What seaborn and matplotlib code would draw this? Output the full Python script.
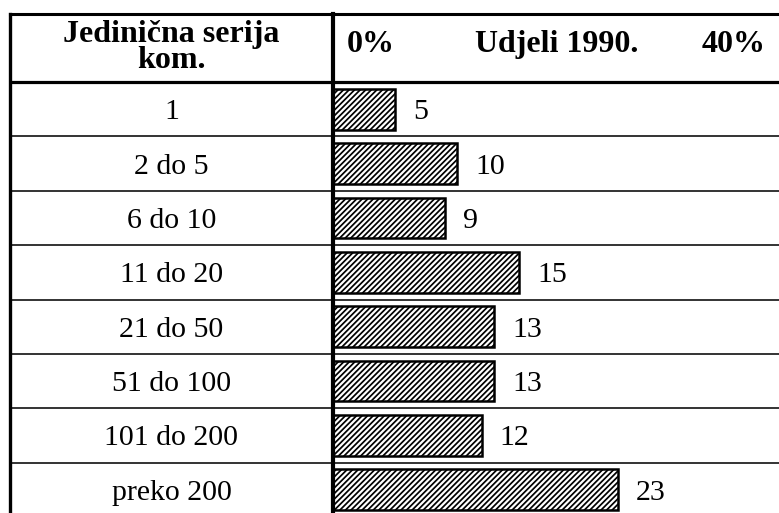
import matplotlib
matplotlib.use("Agg")
import matplotlib.pyplot as plt
import seaborn as sns
import pandas as pd

# Series sizes (pieces) and their 1990 shares in %
categories = ["1", "2 do 5", "6 do 10", "11 do 20", "21 do 50",
              "51 do 100", "101 do 200", "preko 200"]
shares = [5, 10, 9, 15, 13, 13, 12, 23]
col_header = ["Jedinična serija", "kom."]
bar_header = "Udjeli 1990."
scale_labels = ["0%", "40%"]

sns.set_theme(style="white")
plt.rcParams["font.family"] = ["Liberation Serif", "DejaVu Serif"]
plt.rcParams["text.color"] = "black"
plt.rcParams["hatch.linewidth"] = 1.25
plt.rcParams["hatch.color"] = "black"

W, H = 779, 513
fig = plt.figure(figsize=(W / 100, H / 100), dpi=100)
fig.patch.set_facecolor("white")


def fx(px):
    return px / W


def fy(py):
    return 1 - py / H


# table geometry in pixels
top_px, bottom_px = 14, 517
left_px, mid_px = 10, 333
row_h = (bottom_px - 82) / len(categories)
header_rows = (82 - top_px) / row_h

y_top = -0.5 - header_rows
y_bot = len(categories) - 0.5


def row_y(py):
    return y_top + (py - top_px) / row_h


ax_lab = fig.add_axes([fx(left_px), fy(bottom_px),
                       fx(mid_px) - fx(left_px), fy(top_px) - fy(bottom_px)])
ax = fig.add_axes([fx(mid_px), fy(bottom_px),
                   1 - fx(mid_px), fy(top_px) - fy(bottom_px)])

df = pd.DataFrame({"kategorija": categories, "udio": shares})
sns.barplot(data=df, x="udio", y="kategorija", orient="h", width=0.75,
            color="white", edgecolor="black", linewidth=1.8, ax=ax)
for p in ax.patches:
    p.set_hatch("//////")
    p.set_facecolor("white")
    p.set_edgecolor("black")

labels = ax.bar_label(ax.containers[0], padding=13, fontsize=21.5,
                      color="black")
for t in labels:
    t.set_va("center_baseline")

ax.set_xlim(0, 36)
for a in (ax, ax_lab):
    a.set_ylim(y_bot, y_top)
    a.set_xlabel("")
    a.set_ylabel("")
    a.set_xticks([])
    a.set_yticks([])
    a.set_facecolor("white")
    a.spines["right"].set_visible(False)
    a.spines["bottom"].set_visible(False)
    a.spines["top"].set_linewidth(2.2)
    a.spines["top"].set_color("black")
    a.spines["left"].set_color("black")
    a.axhline(-0.5, color="black", lw=2.3)
    for k in range(len(categories) - 1):
        a.axhline(k + 0.5, color="#333333", lw=1.4)
ax.spines["left"].set_linewidth(3.0)
ax_lab.spines["left"].set_linewidth(2.4)
ax_lab.set_xlim(0, 1)

# category column
for i, c in enumerate(categories):
    ax_lab.text(0.5, i, c, ha="center", va="center_baseline",
                fontsize=21.5, color="black")

# two-line header; anchored at the baseline of its last line
ax_lab.text(0.5, row_y(68), "\n".join(col_header), ha="center",
            va="baseline", multialignment="center", linespacing=0.85,
            fontsize=23, fontweight="bold", color="black")

# bar column header
tr = ax.get_yaxis_transform()
hdr = dict(transform=tr, va="baseline", fontsize=23, fontweight="bold",
           color="black")
ax.text(0.031, row_y(52), scale_labels[0], ha="left", **hdr)
ax.text(0.502, row_y(52), bar_header, ha="center", **hdr)
ax.text(0.899, row_y(52), scale_labels[1], ha="center", **hdr)

fig.savefig("out.png", dpi=100, facecolor="white")
